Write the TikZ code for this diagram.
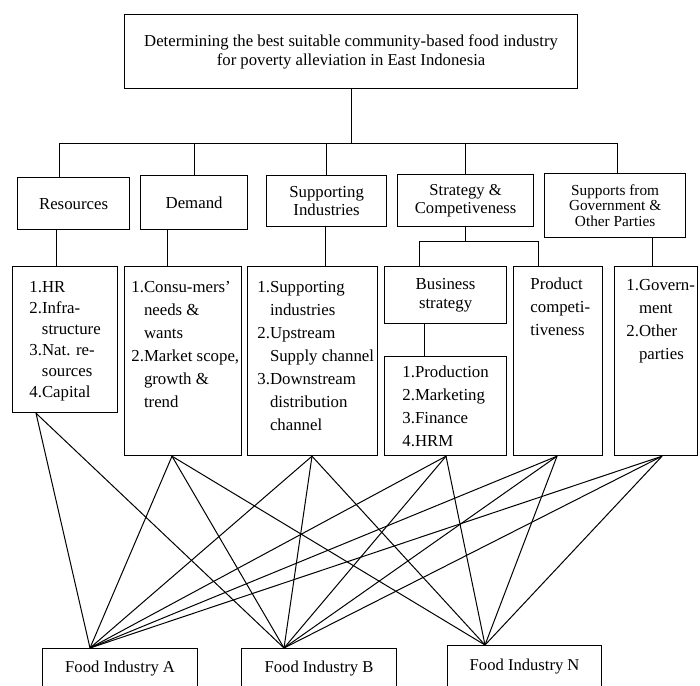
\documentclass[tikz,border=0pt]{standalone}
\usepackage{fontspec}
\setmainfont{Liberation Serif}
\newcommand\firstline{\rule{0pt}{6pt}}
\begin{document}
\begin{tikzpicture}[x=0.5pt,y=-0.5pt,
  box/.style={draw, line width=0.6pt, anchor=north west, inner sep=0pt, align=center, font=\fontsize{8.4}{9.5}\selectfont},
  lst/.style={anchor=north west, inner sep=0pt, align=left, font=\fontsize{8.4}{11.5}\selectfont},
  conn/.style={line width=0.5pt}]
\clip (0,0) rectangle (700,685);
% top
\node[box, minimum width=226.5pt, minimum height=37pt, font=\fontsize{8.35}{9.6}\selectfont] (top) at (124,14)
  {Determining the best suitable community-based food industry\\for poverty alleviation in East Indonesia};
% first row
\node[box, minimum width=56pt, minimum height=26pt] (res) at (17,177) {Resources};
\node[box, minimum width=53.5pt, minimum height=27pt] (dem) at (140,175) {Demand};
\node[box, minimum width=60pt, minimum height=25.5pt, font=\fontsize{8.4}{8.8}\selectfont] (sup) at (266,175) {Supporting\\Industries};
\node[box, minimum width=68pt, minimum height=26pt, font=\fontsize{8.3}{9}\selectfont] (str) at (397,174) {Strategy \&\\Competiveness};
\node[box, minimum width=70.5pt, minimum height=32pt, font=\fontsize{7.65}{7.9}\selectfont] (gov) at (544,173) {Supports from\\Government \&\\Other Parties};
% second row
\node[box, minimum width=52.5pt, minimum height=73pt] (resL) at (12,266) {};
\node[box, minimum width=58.5pt, minimum height=94.5pt] (demL) at (124,266) {};
\node[box, minimum width=65pt, minimum height=94.5pt] (supL) at (247,266) {};
\node[box, minimum width=61pt, minimum height=28.5pt] (bus) at (384,266) {Business\\strategy};
\node[box, minimum width=61pt, minimum height=49.5pt] (busL) at (384,356) {};
\node[box, minimum width=44.5pt, minimum height=94.5pt] (prod) at (513,266) {};
\node[box, minimum width=41.5pt, minimum height=94.5pt] (govL) at (614,266) {};
% list texts (first baseline = y + 12)
\node[lst, font=\fontsize{8.4}{10.5}\selectfont] (resT) at (29,280) {\firstline 1.HR\\2.Infra-\\\hphantom{1.}structure\\3.Nat. re-\\\hphantom{1.}sources\\4.Capital};
\node[lst] (demT) at (131,280) {\firstline 1.Consu-mers'\\\hphantom{1.}needs \&\\\hphantom{1.}wants\\2.Market scope,\\\hphantom{1.}growth \&\\\hphantom{1.}trend};
\node[lst] (supT) at (257,280) {\firstline 1.Supporting\\\hphantom{1.}industries\\2.Upstream\\\hphantom{1.}Supply channel\\3.Downstream\\\hphantom{1.}distribution\\\hphantom{1.}channel};
\node[lst] (busT) at (402,365) {\firstline 1.Production\\2.Marketing\\3.Finance\\4.HRM};
\node[lst] (prodT) at (530,277) {\firstline Product\\competi-\\tiveness};
\node[lst] (govT) at (626,278) {\firstline 1.Govern-\\\hphantom{1.}ment\\2.Other\\\hphantom{1.}parties};
% bottom
\node[box, minimum width=77.5pt, minimum height=19.5pt, font=\fontsize{8.3}{9.5}\selectfont] (A) at (42,648) {Food Industry A};
\node[box, minimum width=77.5pt, minimum height=19.5pt, font=\fontsize{8.3}{9.5}\selectfont] (B) at (241,648) {Food Industry B};
\node[box, minimum width=77pt, minimum height=21pt, font=\fontsize{8.3}{9.5}\selectfont] (N) at (447,645) {Food Industry N};
% tree connectors
\coordinate (busW) at (59,143);
\coordinate (busE) at (617,143);
\draw[conn] (top.south) -- (top.south |- busW);
\draw[conn] (busW) -- (busE);
\draw[conn] (busW) -- (busW |- res.north);
\draw[conn] (dem.north) -- (dem.north |- busW);
\draw[conn] (sup.north) -- (sup.north |- busW);
\draw[conn] (str.north) -- (str.north |- busW);
\draw[conn] (busE) -- (busE |- gov.north);
\coordinate (x56) at (56,0);
\coordinate (x167) at (167,0);
\coordinate (x325) at (325,0);
\coordinate (x424) at (424,0);
\coordinate (x652) at (652,0);
\draw[conn] (res.south -| x56) -- (resL.north -| x56);
\draw[conn] (dem.south -| x167) -- (demL.north -| x167);
\draw[conn] (sup.south -| x325) -- (supL.north -| x325);
\coordinate (sbW) at (419,241);
\coordinate (sbE) at (538,241);
\draw[conn] (str.south) -- (str.south |- sbW);
\draw[conn] (sbW) -- (sbE);
\draw[conn] (sbW) -- (sbW |- bus.north);
\draw[conn] (sbE) -- (sbE |- prod.north);
\draw[conn] (bus.south -| x424) -- (busL.north -| x424);
\draw[conn] (gov.south -| x652) -- (govL.north -| x652);
% source and target points
\coordinate (s1x) at (36,0);
\coordinate (s2x) at (172,0);
\coordinate (s3x) at (312,0);
\coordinate (s4x) at (446,0);
\coordinate (s5x) at (557,0);
\coordinate (s6x) at (662,0);
\coordinate (tAx) at (90,0);
\coordinate (tBx) at (284,0);
\coordinate (tNx) at (485,0);
\coordinate (s1) at (resL.south -| s1x);
\coordinate (s2) at (demL.south -| s2x);
\coordinate (s3) at (supL.south -| s3x);
\coordinate (s4) at (busL.south -| s4x);
\coordinate (s5) at (prod.south -| s5x);
\coordinate (s6) at (govL.south -| s6x);
\coordinate (tA) at (A.north -| tAx);
\coordinate (tB) at (B.north -| tBx);
\coordinate (tN) at (N.north -| tNx);
\foreach \s in {s1,s2,s3,s4,s5,s6} {
  \draw[conn] (\s) -- (tA);
  \draw[conn] (\s) -- (tB);
}
\foreach \s in {s2,s3,s4,s5,s6} {
  \draw[conn] (\s) -- (tN);
}
\end{tikzpicture}
\end{document}
